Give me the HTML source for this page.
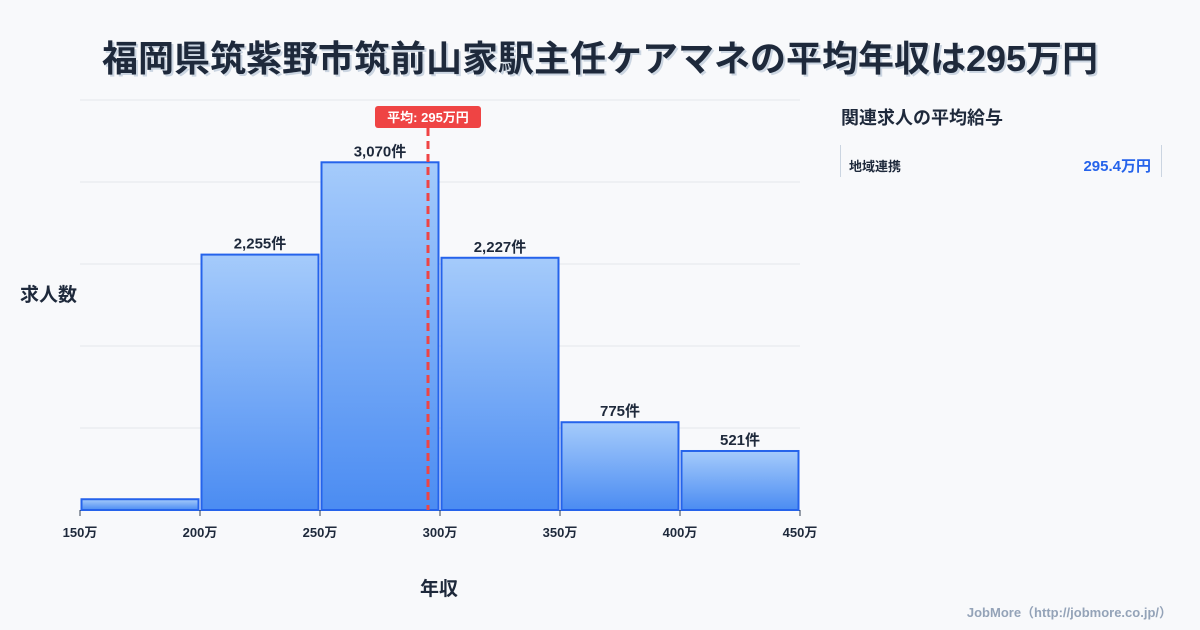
<!DOCTYPE html>
<html><head><meta charset="utf-8"><style>
body{margin:0;width:1200px;height:630px;background:#f8f9fb;font-family:"Liberation Sans","Noto Sans CJK JP",sans-serif;overflow:hidden;position:relative}
.t{position:absolute;white-space:nowrap}
</style></head><body>
<div class="t" style="left:0;width:1200px;top:30px;text-align:center;font-size:36px;font-weight:bold;color:#1e293b;text-shadow:2px 2px 0 #cbd5e1">福岡県筑紫野市筑前山家駅主任ケアマネの平均年収は295万円</div>
<svg id="c" width="1200" height="630" style="position:absolute;left:0;top:0">
<defs><linearGradient id="g" x1="0" y1="0" x2="0" y2="1"><stop offset="0" stop-color="#a5cbfb"/><stop offset="1" stop-color="#4b8cf2"/></linearGradient></defs>
</svg>
<div class="t" style="left:20px;top:280px;font-size:19px;font-weight:bold;color:#1e293b">求人数</div>
<div class="t" style="left:420px;top:574px;font-size:19px;font-weight:bold;color:#1e293b">年収</div>
<div class="t" style="left:841px;top:104px;font-size:18px;font-weight:bold;color:#1e293b">関連求人の平均給与</div>
<div style="position:absolute;left:840px;top:145px;width:320px;height:32px;border-left:1px solid #cbd5e1;border-right:1px solid #cbd5e1">
<span class="t" style="left:8px;top:11px;font-size:13px;font-weight:bold;color:#1e293b">地域連携</span>
<span class="t" style="right:10px;top:10px;font-size:15px;font-weight:bold;color:#2563eb">295.4万円</span></div>
<div class="t" style="right:28px;top:602px;font-size:13px;font-weight:bold;color:#94a3b8">JobMore（http://jobmore.co.jp/）</div>
<script>
const binStarts=[150,200,250,300,350,400];
const counts=[95,2255,3070,2227,775,521];
const labels=["","2,255件","3,070件","2,227件","775件","521件"];
const xTicks=[150,200,250,300,350,400,450];
const meanVal=295;
const svg=document.getElementById('c');const NS='http://www.w3.org/2000/svg';
const X=v=>80+(v-150)*2.4, Y=v=>510-v*410/3620;
function mk(t,a){const e=document.createElementNS(NS,t);for(const k in a)e.setAttribute(k,a[k]);svg.appendChild(e);return e;}
for(let i=0;i<=5;i++){const g=mk('line',{x1:80,x2:800,y1:510-i*82,y2:510-i*82,stroke:'#e5e7eb'});

}
binStarts.forEach((b,i)=>{const r=mk('rect',{x:X(b)+1.5,y:Y(counts[i]),width:X(b+50)-X(b)-3,height:510-Y(counts[i]),fill:'url(#g)',stroke:'#2563eb','stroke-width':2});


if(labels[i]){const t=mk('text',{x:(X(b)+X(b+50))/2,y:Y(counts[i])-6,'text-anchor':'middle','font-size':15,'font-weight':'bold',fill:'#1e293b'});t.textContent=labels[i];

}});
xTicks.forEach(v=>{const l=mk('line',{x1:X(v),x2:X(v),y1:510,y2:516,stroke:'#334155'});


const t=mk('text',{x:X(v),y:537,'text-anchor':'middle','font-size':13,'font-weight':'bold',fill:'#1e293b'});t.textContent=v+'万';

});
const m=mk('line',{x1:X(meanVal),x2:X(meanVal),y1:128,y2:510,stroke:'#ef4444','stroke-width':3,'stroke-dasharray':'8,5'});


const mb=mk('rect',{x:X(meanVal)-53,y:106,width:106,height:22,rx:3,fill:'#ef4444'});


const mt=mk('text',{x:X(meanVal),y:122,'text-anchor':'middle','font-size':13,'font-weight':'bold',fill:'#fff'});mt.textContent='平均: '+meanVal+'万円';


</script>
</body></html>
